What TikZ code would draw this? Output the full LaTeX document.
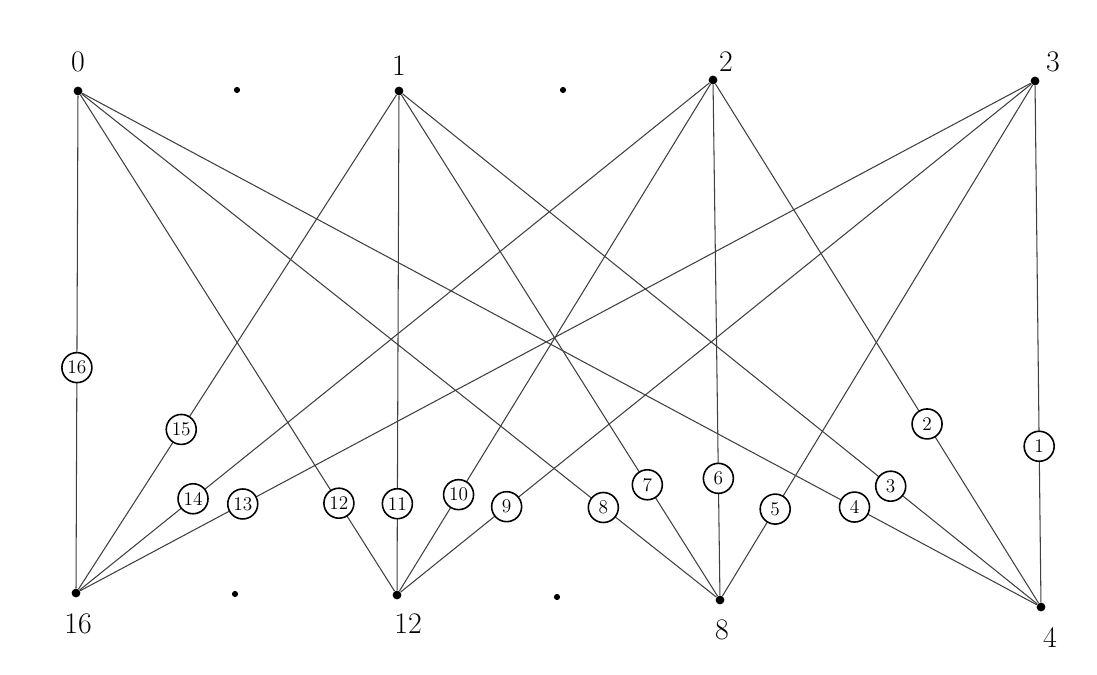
\documentclass[tikz,border=0pt]{standalone}
\begin{document}
\begin{tikzpicture}[x=0.02cm,y=-0.02cm,
  vtx/.style={circle,fill=black,inner sep=0pt,minimum size=5pt},
  spot/.style={circle,fill=black,inner sep=0pt,minimum size=3.5pt},
  vlab/.style={font=\fontsize{17}{19}\selectfont},
  elab/.style={circle,draw=black,line width=0.9pt,fill=white,inner sep=0pt,minimum size=0.6cm,font=\fontsize{11}{13}\selectfont},
  edge/.style={draw=black!75,line width=0.6pt}]
\useasboundingbox (0,0) rectangle (1097,675);
% vertices
\node[vtx] (v0) at (78,91) {};
\node[vtx] (v1) at (399,91) {};
\node[vtx] (v2) at (713,80) {};
\node[vtx] (v3) at (1035,81) {};
\node[vtx] (v16) at (76,593) {};
\node[vtx] (v12) at (397,595) {};
\node[vtx] (v8) at (720,600) {};
\node[vtx] (v4) at (1041,607) {};
% vertex labels
\node[vlab] (l0) at (78,62) {0};
\node[vlab] (l1) at (399,66) {1};
\node[vlab] (l2) at (726,62) {2};
\node[vlab] (l3) at (1053,62) {3};
\node[vlab] (l16) at (78,624) {16};
\node[vlab] (l12) at (408,624) {12};
\node[vlab] (l8) at (722,630) {8};
\node[vlab] (l4) at (1050,638) {4};
% stray dots
\node[spot] (d1) at (237,90) {};
\node[spot] (d2) at (563,90) {};
\node[spot] (d3) at (235,594) {};
\node[spot] (d4) at (557,597) {};
% edges with labels
\path[edge] (v0) -- (v16) node[elab,pos=0.552] (e16) {16};
\path[edge] (v1) -- (v16) node[elab,pos=0.677] (e15) {15};
\path[edge] (v2) -- (v16) node[elab,pos=0.82] (e14) {14};
\path[edge] (v3) -- (v16) node[elab,pos=0.829] (e13) {13};
\path[edge] (v0) -- (v12) node[elab,pos=0.823] (e12) {12};
\path[edge] (v1) -- (v12) node[elab,pos=0.825] (e11) {11};
\path[edge] (v2) -- (v12) node[elab,pos=0.81] (e10) {10};
\path[edge] (v3) -- (v12) node[elab,pos=0.832] (e9) {9};
\path[edge] (v0) -- (v8) node[elab,pos=0.822] (e8) {8};
\path[edge] (v1) -- (v8) node[elab,pos=0.778] (e7) {7};
\path[edge] (v2) -- (v8) node[elab,pos=0.771] (e6) {6};
\path[edge] (v3) -- (v8) node[elab,pos=0.83] (e5) {5};
\path[edge] (v0) -- (v4) node[elab,pos=0.809] (e4) {4};
\path[edge] (v1) -- (v4) node[elab,pos=0.769] (e3) {3};
\path[edge] (v2) -- (v4) node[elab,pos=0.655] (e2) {2};
\path[edge] (v3) -- (v4) node[elab,pos=0.698] (e1) {1};
\end{tikzpicture}
\end{document}
